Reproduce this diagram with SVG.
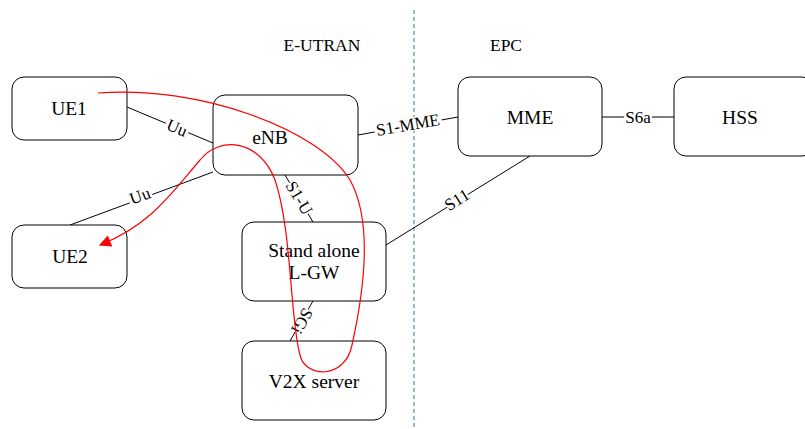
<svg xmlns="http://www.w3.org/2000/svg" width="805" height="429" viewBox="0 0 805 429" font-family="'Liberation Serif','Times New Roman',serif">
<style>
.box{fill:#fff;stroke:#000;stroke-width:1}
.t{font-family:'Liberation Serif','Times New Roman',serif;font-size:19.5px;fill:#000;text-anchor:middle}
.ttl{font-family:'Liberation Serif','Times New Roman',serif;font-size:17.5px;fill:#000;text-anchor:middle}
.lbl{font-family:'Liberation Serif','Times New Roman',serif;font-size:17px;fill:#000;text-anchor:middle;dominant-baseline:central}
.ln{stroke:#000;stroke-width:1;fill:none}
.bg{fill:#fff}
</style>
<defs>
<marker id="ah" viewBox="0 0 10 10" refX="9" refY="5" markerWidth="14" markerHeight="12" markerUnits="userSpaceOnUse" orient="auto">
<path d="M0,0 L10,5 L0,10 z" fill="#f00"/>
</marker>
</defs>
<line x1="414" y1="10" x2="414" y2="429" stroke="#2e75b6" stroke-width="1" stroke-dasharray="4,3"/>
<text class="ttl" x="322" y="51">E-UTRAN</text>
<text class="ttl" x="506" y="51">EPC</text>
<g id="connectors">
<line class="ln" x1="127" y1="107" x2="213" y2="143"/>
<line class="ln" x1="70" y1="225" x2="213" y2="172"/>
<line class="ln" x1="358" y1="135" x2="458" y2="117"/>
<line class="ln" x1="602" y1="117" x2="674" y2="117"/>
<line class="ln" x1="285" y1="175" x2="313" y2="222"/>
<line class="ln" x1="530" y1="156" x2="386" y2="245"/>
<line class="ln" x1="313" y1="301" x2="290" y2="341"/>
</g>
<g id="n-ue1"><rect class="box" x="12" y="77" width="115" height="63" rx="12"/><text class="t" x="69" y="115">UE1</text></g>
<g id="n-ue2"><rect class="box" x="12" y="225" width="115" height="63" rx="12"/><text class="t" x="70" y="263">UE2</text></g>
<g id="n-enb"><rect class="box" x="213" y="95" width="145" height="80" rx="12"/><text class="t" x="270" y="144">eNB</text></g>
<g id="n-lgw"><rect class="box" x="242" y="222" width="144" height="79" rx="12"/><text class="t" x="314" y="257">Stand alone</text><text class="t" x="314" y="279">L-GW</text></g>
<g id="n-v2x"><rect class="box" x="242" y="341" width="144" height="79" rx="12"/><text class="t" x="314" y="388">V2X server</text></g>
<g id="n-mme"><rect class="box" x="458" y="77" width="144" height="79" rx="12"/><text class="t" x="530" y="124">MME</text></g>
<g id="n-hss"><rect class="box" x="674" y="77" width="140" height="79" rx="12"/><text class="t" x="740" y="124">HSS</text></g>
<g id="labels">
<g transform="translate(177,128) rotate(23)"><rect class="bg" x="-12" y="-7" width="24" height="14"/><text class="lbl">Uu</text></g>
<g transform="translate(140,196) rotate(-20)"><rect class="bg" x="-12" y="-7" width="24" height="14"/><text class="lbl">Uu</text></g>
<g transform="translate(408,125) rotate(-10)"><rect class="bg" x="-34" y="-7" width="68" height="14"/><text class="lbl">S1-MME</text></g>
<g transform="translate(638,117)"><rect class="bg" x="-14" y="-7" width="28" height="14"/><text class="lbl">S6a</text></g>
<g transform="translate(299,198) rotate(59)"><rect class="bg" x="-18" y="-7" width="36" height="14"/><text class="lbl">S1-U</text></g>
<g transform="translate(457,200) rotate(-32)"><rect class="bg" x="-12" y="-7" width="24" height="14"/><text class="lbl">S11</text></g>
<g transform="translate(302,321) rotate(120)"><rect class="bg" x="-13" y="-7" width="26" height="14"/><text class="lbl">SGi</text></g>
</g>
<path d="M98,93 C200,85 320,130 350,180 C375,225 362,300 352,345 C345,380 305,378 300,355 C290,320 292,230 275,180 C260,140 220,135 200,160 C170,195 150,225 100,245" fill="none" stroke="#f00" stroke-width="1.2" marker-end="url(#ah)"/>
</svg>
